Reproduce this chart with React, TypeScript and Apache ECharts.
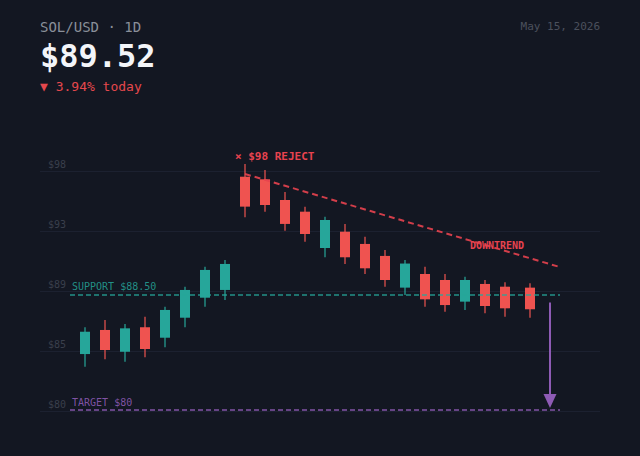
import React, { useEffect, useRef } from "react";
import * as echarts from "echarts";

// ---- data ----
const candleX = [0, 1, 2, 3, 4, 5, 6, 7, 8, 9, 10, 11, 12, 13, 14, 15, 16, 17, 18, 19, 20, 21, 22.25];
const opens = [84.11, 85.88, 84.28, 86.08, 85.31, 86.78, 88.25, 88.82, 97.14, 96.95, 95.43, 94.57, 91.9, 93.1, 92.2, 91.32, 88.99, 89.99, 89.55, 87.96, 89.26, 89.06, 88.99];
const closes = [85.75, 84.41, 86.0, 84.48, 87.35, 88.82, 90.29, 90.73, 94.94, 95.06, 93.67, 92.93, 93.96, 91.22, 90.41, 89.55, 90.76, 88.13, 87.71, 89.55, 87.64, 87.47, 87.4];
const lows = [83.18, 83.73, 83.55, 83.87, 84.61, 86.08, 87.59, 88.08, 94.16, 94.57, 93.17, 92.37, 91.22, 90.73, 89.99, 89.06, 88.45, 87.59, 87.22, 87.35, 87.11, 86.86, 86.78];
const highs = [86.08, 86.61, 86.32, 86.86, 87.59, 89.06, 90.53, 91.02, 98.07, 97.63, 96.02, 94.94, 94.2, 93.67, 92.73, 91.76, 91.02, 90.53, 89.99, 89.79, 89.55, 89.38, 89.31];

const gridTickLabels = ["$80", "$85", "$89", "$93", "$98"];

const supportLevel = 88.5;
const targetLevel = 80;
const levelSpan = [-0.75, 23.75];
const trendStart = [8, 97.34];
const trendEnd = [23.75, 90.5];
const arrowX = 23.25;
const arrowFrom = 87.9;
const arrowTo = 80.66;
const rejectPoint = [8, 98];
const downtrendPoint = [20.6, 92.05];

const titleText = "SOL/USD · 1D";
const priceText = "$89.52";
const changeText = "▼ 3.94% today";
const dateText = "May 15, 2026";
const supportText = "SUPPORT $88.50";
const targetText = "TARGET $80";
const rejectText = "× $98 REJECT";
const downtrendText = "DOWNTREND";

const GREEN = "#26a69a";
const RED = "#ef5350";
const ANNOT_RED = "#e8434f";
const PURPLE = "#8e5bb5";
const BG = "#131722";
const MONO = "DejaVu Sans Mono, monospace";

export default function App() {
  const ref = useRef<HTMLDivElement>(null);

  useEffect(() => {
    document.body.style.margin = "0";
    document.body.style.background = BG;
    if (!ref.current) return;
    const chart = echarts.init(ref.current, null, { renderer: "svg" });

    const data = candleX.map((x, i) => [x, opens[i], closes[i], lows[i], highs[i]]);

    const option: any = {
      animation: false,
      backgroundColor: BG,
      grid: [
        { left: 40, right: 40, top: 165, bottom: 46 },
        { left: 40, right: 40, top: 171, bottom: 45 },
      ],
      xAxis: [
        { type: "value", gridIndex: 0, min: -2.25, max: 25.75, show: false },
        { type: "value", gridIndex: 1, min: 0, max: 1, show: false },
      ],
      yAxis: [
        { type: "value", gridIndex: 0, min: 80, max: 98, show: false },
        {
          type: "value",
          gridIndex: 1,
          min: 0,
          max: 4,
          interval: 1,
          axisLine: { show: false },
          axisTick: { show: false },
          splitLine: { show: true, lineStyle: { color: "#1c2130", width: 1 } },
          axisLabel: {
            inside: true,
            margin: 8,
            verticalAlign: "bottom",
            padding: [0, 0, 2, 0],
            color: "#3a3f4c",
            fontSize: 10,
            fontFamily: MONO,
            formatter: (v: number) => gridTickLabels[Math.round(v)],
          },
        },
      ],
      series: [
        {
          type: "custom",
          xAxisIndex: 0,
          yAxisIndex: 0,
          encode: { x: 0, y: [1, 2, 3, 4] },
          data,
          clip: false,
          renderItem: (params: any, api: any) => {
            const x = api.value(0);
            const o = api.value(1);
            const c = api.value(2);
            const l = api.value(3);
            const h = api.value(4);
            const pO = api.coord([x, o]);
            const pC = api.coord([x, c]);
            const pL = api.coord([x, l]);
            const pH = api.coord([x, h]);
            const color = c >= o ? GREEN : RED;
            const top = Math.min(pO[1], pC[1]);
            const bh = Math.max(1, Math.abs(pO[1] - pC[1]));
            return {
              type: "group",
              children: [
                {
                  type: "line",
                  shape: { x1: pH[0], y1: pH[1], x2: pL[0], y2: pL[1] },
                  style: { stroke: color, lineWidth: 2, opacity: 0.6 },
                },
                {
                  type: "rect",
                  shape: { x: pO[0] - 5, y: top, width: 10, height: bh },
                  style: { fill: color },
                },
              ],
            };
          },
          markLine: {
            silent: true,
            symbol: ["none", "none"],
            z: 5,
            data: [
              [
                {
                  coord: [levelSpan[0], supportLevel],
                  lineStyle: { color: GREEN, type: [5, 3], width: 1.5, opacity: 0.85 },
                  label: {
                    show: true,
                    position: "insideStartTop",
                    formatter: supportText,
                    color: GREEN,
                    fontSize: 10,
                    fontFamily: MONO,
                    distance: [2, 3],
                  },
                },
                { coord: [levelSpan[1], supportLevel] },
              ],
              [
                {
                  coord: [levelSpan[0], targetLevel],
                  lineStyle: { color: PURPLE, type: [5, 3], width: 1.5, opacity: 0.9 },
                  label: {
                    show: true,
                    position: "insideStartTop",
                    formatter: targetText,
                    color: PURPLE,
                    fontSize: 10,
                    fontFamily: MONO,
                    distance: [2, 3],
                  },
                },
                { coord: [levelSpan[1], targetLevel] },
              ],
              [
                {
                  coord: trendStart,
                  lineStyle: { color: ANNOT_RED, type: [6, 4], width: 2, opacity: 0.9 },
                  label: { show: false },
                },
                { coord: trendEnd },
              ],
              [
                {
                  coord: [arrowX, arrowFrom],
                  symbol: "none",
                  lineStyle: { color: PURPLE, type: "solid", width: 2 },
                  label: { show: false },
                },
                { coord: [arrowX, arrowTo], symbol: "triangle", symbolSize: [13, 14] },
              ],
            ],
          },
          markPoint: {
            silent: true,
            symbol: "rect",
            symbolSize: 1,
            itemStyle: { color: "rgba(0,0,0,0)" },
            data: [
              {
                coord: rejectPoint,
                label: {
                  show: true,
                  position: "inside",
                  align: "left",
                  verticalAlign: "middle",
                  offset: [-10, -9],
                  formatter: rejectText,
                  color: ANNOT_RED,
                  fontSize: 11,
                  fontWeight: "bold",
                  fontFamily: MONO,
                },
              },
              {
                coord: downtrendPoint,
                label: {
                  show: true,
                  position: "inside",
                  align: "center",
                  verticalAlign: "middle",
                  formatter: downtrendText,
                  color: ANNOT_RED,
                  fontSize: 10,
                  fontWeight: "bold",
                  fontFamily: MONO,
                },
              },
            ],
          },
        },
      ],
      graphic: [
        {
          type: "text",
          left: 40,
          top: 20,
          style: { text: titleText, fill: "#8a8f99", fontSize: 14, fontFamily: MONO },
        },
        {
          type: "text",
          left: 40,
          top: 40,
          style: { text: priceText, fill: "#f3f5f9", fontSize: 32, fontWeight: "bold", fontFamily: MONO },
        },
        {
          type: "text",
          left: 40,
          top: 80,
          style: { text: changeText, fill: "#e5484d", fontSize: 13, fontFamily: MONO },
        },
        {
          type: "text",
          right: 40,
          top: 21,
          style: { text: dateText, fill: "#4b505c", fontSize: 11, fontFamily: MONO },
        },
      ],
    };

    chart.setOption(option);
    return () => chart.dispose();
  }, []);

  return <div ref={ref} style={{ width: 640, height: 456, background: BG }} />;
}
